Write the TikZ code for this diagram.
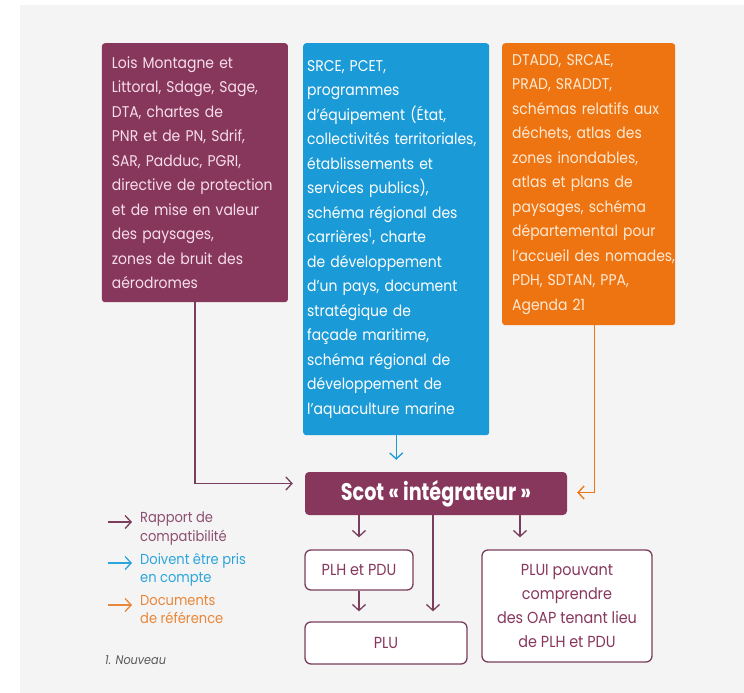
\documentclass[tikz,border=0pt]{standalone}
\usepackage{fontspec}
\setmainfont{Poppins}[FakeStretch=0.9]
\newfontfamily\scotfont{Poppins}[FakeStretch=0.8]
\usetikzlibrary{arrows.meta,calc}
\definecolor{plum}{RGB}{135,55,92}
\definecolor{skyb}{RGB}{26,154,214}
\definecolor{orng}{RGB}{238,115,17}
\definecolor{bggrey}{RGB}{244,244,244}
\definecolor{plumtxt}{RGB}{247,222,234}
\definecolor{orngtxt}{RGB}{254,234,212}
\definecolor{plumline}{RGB}{122,62,92}
\definecolor{legplum}{RGB}{140,80,112}
\definecolor{legblue}{RGB}{44,165,220}
\definecolor{legorng}{RGB}{232,135,58}
\newcommand{\oneline}[1]{\mbox{#1}\\}
\begin{document}
\begin{tikzpicture}[x=1pt,y=-1pt,
  every node/.style={font=\fontsize{15.5}{24.5}\selectfont},
  topbox/.style={rounded corners=3pt, anchor=north west, inner xsep=10pt, inner ysep=0pt, align=left},
  whitebox/.style={draw=plumline, line width=1.3pt, fill=white, rounded corners=6pt, text=plum, align=center, inner sep=0pt, font=\fontsize{16}{24}\selectfont},
  conn/.style={line width=1.3pt, -{Straight Barb[length=6pt,width=13pt]}},
  legtxt/.style={anchor=north west, align=left, inner sep=0pt, font=\fontsize{14.5}{18.5}\selectfont}
  ]
\useasboundingbox (0,0) rectangle (744,693);
\fill[white] (0,0) rectangle (744,693);
\fill[bggrey] (20,5) rectangle (744,693);

% top boxes
\node[topbox, fill=plum, text=plumtxt, text width=166pt, minimum height=259pt] (b1) at (101.7,43) {%
\oneline{Lois Montagne et}\oneline{Littoral, Sdage, Sage,}\oneline{DTA, chartes de}\oneline{PNR et de PN, Sdrif,}\oneline{SAR, Padduc, PGRI,}\oneline{directive de protection}\oneline{et de mise en valeur}\oneline{des paysages,}\oneline{zones de bruit des}\mbox{aérodromes}};
\node[topbox, inner xsep=4pt, fill=skyb, text=white, text width=178pt, minimum height=392pt] (b2) at (303,43) {%
\oneline{SRCE, PCET,}\oneline{programmes}\oneline{d’équipement (État,}\oneline{collectivités territoriales,}\oneline{établissements et}\oneline{services publics),}\oneline{schéma régional des}\oneline{carrières\textsuperscript{1}, charte}\oneline{de développement}\oneline{d’un pays, document}\oneline{stratégique de}\oneline{façade maritime,}\oneline{schéma régional de}\oneline{développement de}\mbox{l’aquaculture marine}};
\node[topbox, fill=orng, text=orngtxt, text width=153pt, minimum height=282pt] (b3) at (502,43) {%
\oneline{DTADD, SRCAE,}\oneline{PRAD, SRADDT,}\oneline{schémas relatifs aux}\oneline{déchets, atlas des}\oneline{zones inondables,}\oneline{atlas et plans de}\oneline{paysages, schéma}\oneline{départemental pour}\oneline{l’accueil des nomades,}\oneline{PDH, SDTAN, PPA,}\mbox{Agenda 21}};

% Scot
\node[fill=plum, text=white, rounded corners=4pt, minimum width=262pt, minimum height=43pt, inner sep=0pt,
  font=\scotfont\fontsize{24}{28}\selectfont\bfseries] (scot) at (436,493.5) {Scot « intégrateur »};

% lower boxes
\node[whitebox, minimum width=108pt, minimum height=40pt] (plh) at (359,570) {PLH et PDU};
\node[whitebox, minimum width=162pt, minimum height=42pt] (plu) at (386,643) {PLU};
\node[whitebox, minimum width=170pt, minimum height=112pt] (plui) at (567,606) {PLUI pouvant\\comprendre\\des OAP tenant lieu\\de PLH et PDU};

% connectors to Scot
\draw[conn, plumline] (b1.south) |- ($(scot.west)+(-12,-10)$);
\draw[conn, skyb] (b2.south) -- ($(scot.north -| b2.south)+(0,-12)$);
\coordinate (b3out) at ($(b3.south)+(6,0)$);
\draw[conn, orng] (b3out) |- ($(scot.east)+(10,-1)$);

% connectors below Scot
\coordinate (pluin) at ($(plu.north)+(0,-10)$);
\coordinate (plhin) at ($(plh.north)+(0,-12)$);
\coordinate (pluiin) at ($(plui.north)+(0,-12)$);
\draw[conn, plumline] (scot.south -| plh.north) -- (plhin);
\coordinate (mid) at ($(scot.south)+(-3,0)$);
\draw[conn, plumline] (mid) -- (mid |- pluin);
\coordinate (right) at ($(scot.south)+(84,0)$);
\draw[conn, plumline] (right) -- (right |- pluiin);
\draw[conn, plumline] (plh.south) -- (plh.south |- pluin);

% legend
\coordinate (l1) at (108,522);
\coordinate (l2) at (108,563);
\coordinate (l3) at (108,605);
\draw[conn, plumline] (l1) -- ++(24,0);
\draw[conn, legblue] (l2) -- ++(24,0);
\draw[conn, legorng] (l3) -- ++(24,0);
\node[legtxt, text=legplum] (t1) at (140,512) {Rapport de\\compatibilité};
\node[legtxt, text=legblue] (t2) at (140,553) {Doivent être pris\\en compte};
\node[legtxt, text=legorng] (t3) at (140,595) {Documents\\de référence};
\node[anchor=west, inner sep=0pt, text=black!65, font=\fontsize{12.5}{14}\selectfont\itshape] (fn) at (105,660) {1. Nouveau};
\end{tikzpicture}
\end{document}
